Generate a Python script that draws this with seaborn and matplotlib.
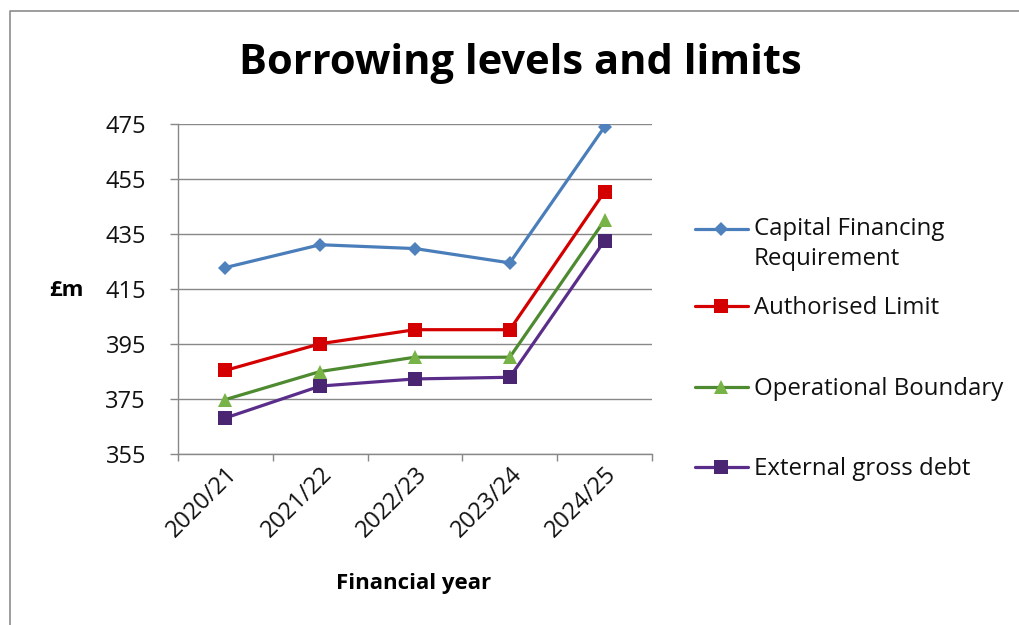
import numpy as np
import pandas as pd
import seaborn as sns
import matplotlib
matplotlib.use("Agg")
import matplotlib.pyplot as plt
from matplotlib.lines import Line2D
from matplotlib.legend_handler import HandlerLine2D

# ---- data (£m) ----
years = ["2020/21", "2021/22", "2022/23", "2023/24", "2024/25"]
capital_financing_requirement = [422.8, 431.1, 429.7, 424.5, 474.0]
authorised_limit = [385.4, 395.1, 400.2, 400.2, 450.4]
operational_boundary = [374.8, 385.0, 390.2, 390.2, 440.0]
external_gross_debt = [368.1, 379.7, 382.3, 382.9, 432.6]

series_names = ["Capital Financing Requirement", "Authorised Limit",
                "Operational Boundary", "External gross debt"]
series_values = [capital_financing_requirement, authorised_limit,
                 operational_boundary, external_gross_debt]

df = pd.DataFrame({
    "year": np.tile(years, len(series_names)),
    "series": np.repeat(series_names, len(years)),
    "value": np.concatenate(series_values),
})

line_colors = {"Capital Financing Requirement": "#4A7EBB",
               "Authorised Limit": "#D40000",
               "Operational Boundary": "#4E8A30",
               "External gross debt": "#5B2D8A"}
marker_colors = {"Capital Financing Requirement": "#4F81BD",
                 "Authorised Limit": "#D40000",
                 "Operational Boundary": "#77B347",
                 "External gross debt": "#4A2572"}
marker_shapes = {"Capital Financing Requirement": "D",
                 "Authorised Limit": "s",
                 "Operational Boundary": "^",
                 "External gross debt": "s"}
marker_sizes = {"D": 7, "s": 10, "^": 10}

sns.set_theme(style="white")
FONT = "Open Sans"
plt.rcParams["font.family"] = [FONT, "DejaVu Sans"]

fig = plt.figure(figsize=(10.19, 6.25), dpi=100)
ax = fig.add_axes([178 / 1019, 1 - 454 / 625, (652 - 178) / 1019, (454 - 124) / 625])

sns.lineplot(data=df, x="year", y="value", hue="series", style="series",
             palette=line_colors, markers=marker_shapes, dashes=False,
             sort=False, linewidth=2.3, markeredgewidth=0, ax=ax, legend=False)

for line, name in zip(ax.lines, series_names):
    m = marker_shapes[name]
    line.set_markersize(marker_sizes[m])
    line.set_markerfacecolor(marker_colors[name])
    line.set_markeredgecolor(marker_colors[name])
    line.set_zorder(3)

# axes styling
grid_c = "#888888"
ax.set_ylim(355, 475)
ax.set_yticks(np.arange(355, 476, 20))
ax.set_xlim(-0.5, len(years) - 0.5)
ax.set_xticks(range(len(years)))
ax.set_xticks(np.arange(-0.5, len(years), 1.0), minor=True)
ax.set_xticklabels(years, rotation=45, ha="right", rotation_mode="anchor")
ax.tick_params(axis="x", which="major", length=0, pad=6, labelsize=17,
               labelcolor="#111111")
ax.tick_params(axis="x", which="minor", length=5, width=1, color=grid_c,
               direction="out", bottom=True)
ax.tick_params(axis="y", length=6, width=1, color=grid_c, direction="out",
               left=True, pad=17, labelsize=17, labelcolor="#111111")
ax.yaxis.grid(True, color=grid_c, linewidth=1)
ax.xaxis.grid(False)
ax.set_axisbelow(True)
for side in ("top", "right"):
    ax.spines[side].set_visible(False)
for side in ("left", "bottom"):
    ax.spines[side].set_color(grid_c)
    ax.spines[side].set_linewidth(1)
ax.set_xlabel("")
ax.set_ylabel("")

# titles
fig.text(520 / 1019, 1 - 64 / 625, "Borrowing levels and limits",
         ha="center", va="center", fontsize=30, fontweight="bold", color="black")
fig.text(66 / 1019, 1 - 290 / 625, "£m", ha="center", va="center",
         fontsize=16, fontweight="bold", color="black")
fig.text(414 / 1019, 1 - 584 / 625, "Financial year", ha="center",
         va="center", fontsize=16, fontweight="bold", color="black")


class RaisedLineHandler(HandlerLine2D):
    """Legend handle lifted so it sits beside the first line of a wrapped label."""

    def __init__(self, shift=0.0, **kw):
        super().__init__(**kw)
        self.shift = shift

    def create_artists(self, legend, orig_handle, xdescent, ydescent, width,
                       height, fontsize, trans):
        artists = super().create_artists(legend, orig_handle, xdescent, ydescent,
                                          width, height, fontsize, trans)
        for a in artists:
            a.set_ydata(np.asarray(a.get_ydata(), dtype=float) + self.shift * fontsize)
        return artists


labels = ["Capital Financing\nRequirement", "Authorised Limit",
          "Operational Boundary", "External gross debt"]
legend_y = [244, 308, 389, 469]
for name, label, y in zip(series_names, labels, legend_y):
    m = marker_shapes[name]
    h = Line2D([], [], color=line_colors[name], linewidth=2.3, marker=m,
               markersize=marker_sizes[m], markerfacecolor=marker_colors[name],
               markeredgewidth=0)
    shift = 0.66 if "\n" in label else 0.0
    leg = fig.legend([h], [label], loc="center left",
                     bbox_to_anchor=(695 / 1019, 1 - y / 625),
                     frameon=False, fontsize=17.3, handlelength=2.2,
                     handletextpad=0.25, borderpad=0, borderaxespad=0,
                     handler_map={h: RaisedLineHandler(shift=shift, numpoints=1)})
    for t in leg.get_texts():
        t.set_color("#111111")
        t.set_linespacing(1.35)

# chart frame
fig.add_artist(Line2D([10 / 1019, 10 / 1019, 1.0], [0.0, 1 - 11 / 625, 1 - 11 / 625],
                      transform=fig.transFigure, color="#8c8c8c", linewidth=1.2))

fig.savefig("out.png", dpi=100, facecolor="white")
